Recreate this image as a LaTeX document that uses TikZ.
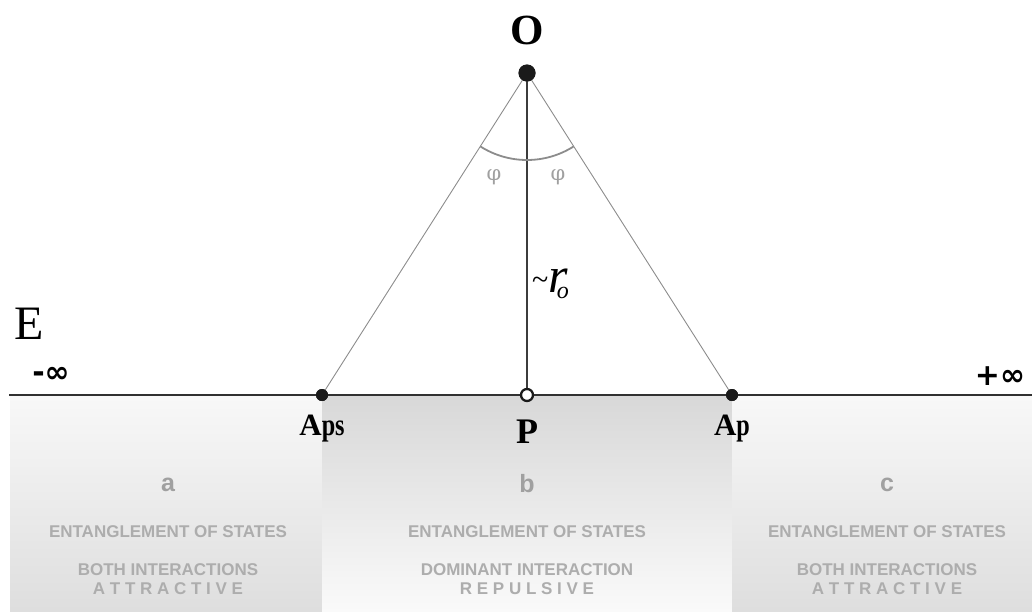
\documentclass[tikz,border=0pt]{standalone}
\usepackage{fontspec}
\usepackage{graphicx}
\setmainfont{Liberation Serif}
\setsansfont{Liberation Sans}
\newfontfamily\djbold{DejaVu Sans}
\newfontfamily\djserif{DejaVu Serif}
\definecolor{dotc}{HTML}{1A1A1A}
\definecolor{slant}{HTML}{8C8C8C}
\definecolor{txtg}{HTML}{ADADAD}
\definecolor{letg}{HTML}{A0A0A0}
\definecolor{shadeA}{HTML}{DEDEDE}
\definecolor{shadeB}{HTML}{D8D8D8}
\definecolor{lightA}{HTML}{F8F8F8}
\tikzset{
  axis/.style={line width=2.2pt, draw=dotc!90!white},
  slantline/.style={line width=0.9pt, draw=slant},
  vline/.style={line width=2pt, draw=dotc!85!white},
  arcline/.style={line width=1.8pt, draw=slant},
  fulldot/.style={circle, fill=dotc, inner sep=0pt},
  opendot/.style={circle, fill=white, draw=dotc, line width=2.3pt, inner sep=0pt, minimum size=12pt},
  ptlabel/.style={inner sep=0pt, font=\bfseries},
  regletter/.style={inner sep=0pt, text=letg, font=\sffamily\bfseries\fontsize{25}{25}\selectfont},
  regtext/.style={inner sep=0pt, text=txtg, align=center, font=\sffamily\bfseries\fontsize{17}{19}\selectfont},
  inflabel/.style={inner sep=0pt, font=\djbold\bfseries\fontsize{30}{30}\selectfont},
  philabel/.style={inner sep=0pt, text=letg, font=\djserif\fontsize{21}{21}\selectfont},
}
\begin{document}
\begin{tikzpicture}[x=1pt,y=1pt]
\useasboundingbox (0,0) rectangle (1032,-611);
% shaded regions
\shade[top color=lightA, bottom color=shadeA] (10,-396) rectangle (322,-611);
\shade[top color=shadeB, bottom color=white!98!black] (322,-396) rectangle (732,-611);
\shade[top color=lightA, bottom color=shadeA] (732,-396) rectangle (1032,-611);
% points
\coordinate (L) at (9,-395);
\coordinate (R) at (1032,-395);
\node[fulldot, minimum size=17pt] (O) at (527,-73) {};
\node[fulldot, minimum size=12pt] (Aps) at (322,-395) {};
\node[fulldot, minimum size=12pt] (Ap) at (732,-395) {};
\coordinate (P) at (527,-395);
% lines
\draw[axis] (L) -- (R);
\draw[slantline] (O.center) -- (Aps.center);
\draw[slantline] (O.center) -- (Ap.center);
\draw[vline] (O.center) -- (P);
\draw[arcline] ([shift={(237.5:87)}]O.center) arc[start angle=237.5, end angle=302.5, radius=87];
\node[opendot] (Pd) at (P) {};
\node[fulldot, minimum size=17pt] at (O) {};
\node[fulldot, minimum size=12pt] at (Aps) {};
\node[fulldot, minimum size=12pt] at (Ap) {};
% labels
\node[ptlabel, font=\bfseries\fontsize{43}{43}\selectfont] (Olab) at (527,-30) {O};
\node[inner sep=0pt, font=\fontsize{48}{48}\selectfont] (E) at (29,-324) {E};
\node[inflabel] (minf) at (51,-375) {-∞};
\node[inflabel] (pinf) at (1000,-376) {+∞};
\node[ptlabel, font=\bfseries\fontsize{31}{31}\selectfont] (Apslab) at (322,-429) {A\scalebox{0.78}[1]{ps}};
\node[ptlabel, font=\bfseries\fontsize{36}{36}\selectfont] (Plab) at (527,-432) {P};
\node[ptlabel, font=\bfseries\fontsize{31}{31}\selectfont] (Aplab) at (732,-429) {A\scalebox{0.78}[1]{p}};
\node[philabel] (phi1) at (494,-177) {φ};
\node[philabel] (phi2) at (558,-177) {φ};
\node[inner sep=0pt, anchor=base west] (rlab) at (532,-292) {{\fontsize{30}{30}\selectfont\raisebox{3pt}{\textasciitilde}}\kern0pt{\fontsize{50}{50}\selectfont\itshape r}\kern-11pt\raisebox{-6pt}{\fontsize{24}{24}\selectfont\itshape o}};
% region texts
\node[regletter] (la) at (168,-485) {a};
\node[regletter] (lb) at (527,-484) {b};
\node[regletter] (lc) at (887,-485) {c};
\node[regtext] (ta1) at (168,-532) {ENTANGLEMENT OF STATES};
\node[regtext] (ta2) at (168,-579) {BOTH INTERACTIONS\\A T T R A C T I V E};
\node[regtext] (tb1) at (527,-532) {ENTANGLEMENT OF STATES};
\node[regtext] (tb2) at (527,-579) {DOMINANT INTERACTION\\R E P U L S I V E};
\node[regtext] (tc1) at (887,-532) {ENTANGLEMENT OF STATES};
\node[regtext] (tc2) at (887,-579) {BOTH INTERACTIONS\\A T T R A C T I V E};
\end{tikzpicture}
\end{document}
